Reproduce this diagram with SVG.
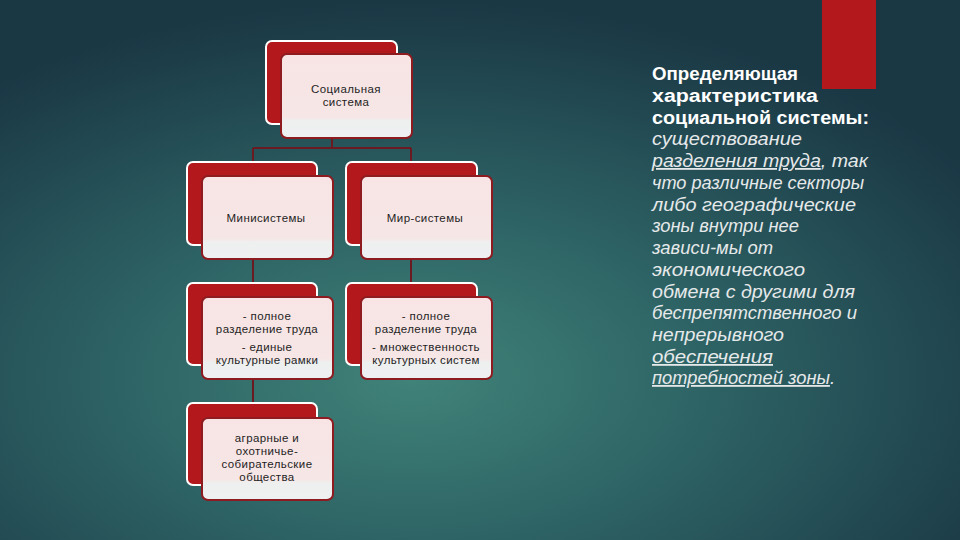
<svg xmlns="http://www.w3.org/2000/svg" width="960" height="540" viewBox="0 0 960 540">
<defs>
<radialGradient id="bg" cx="0.43" cy="0.7" r="0.7" gradientUnits="objectBoundingBox">
<stop offset="0" stop-color="#408379"/>
<stop offset="0.45" stop-color="#2d6264"/>
<stop offset="1" stop-color="#1a3744"/>
</radialGradient>
<linearGradient id="front" x1="0" y1="0" x2="0" y2="1">
<stop offset="0" stop-color="#f8e4e4"/>
<stop offset="0.75" stop-color="#f6e6e6"/>
<stop offset="0.8" stop-color="#eef0f0"/>
<stop offset="1" stop-color="#eef1f1"/>
</linearGradient>
<style>
.back{fill:#b3191c;stroke:#ffffff;stroke-width:2}
.front{fill:url(#front);stroke:#8e1b20;stroke-width:2}
.nt{font-family:"Liberation Sans","DejaVu Sans",sans-serif;font-size:11.5px;letter-spacing:0.4px;fill:#1e1e1e;text-anchor:middle}
.conn{stroke:#6a1a20;stroke-width:2;fill:none}
.rt{font-family:"Liberation Sans","DejaVu Sans",sans-serif;font-size:18px;fill:#ffffff}
.rb{font-weight:bold}
.ri{font-style:italic;fill:#e6e9ea}
.u{text-decoration:underline}
</style>
</defs>
<rect x="0" y="0" width="960" height="540" fill="url(#bg)"/>
<rect x="822" y="0" width="54" height="89" fill="#b3191c"/>
<g id="connectors">
<path class="conn" d="M332 138 V148 M253 148 H411 M253 148 V162 M411 148 V162"/>
<path class="conn" d="M253 259 V283 M411 259 V283 M253 379 V403"/>
</g>
<g id="node-social">
<rect class="back" x="266" y="41" width="131" height="83" rx="6"/>
<rect class="front" x="281" y="54" width="131" height="84" rx="6"/>
<text class="nt" x="346" y="93">Социальная</text>
<text class="nt" x="346" y="106">система</text>
</g>
<g id="node-mini">
<rect class="back" x="187" y="162" width="130" height="83" rx="6"/>
<rect class="front" x="202" y="176" width="131" height="83" rx="6"/>
<text class="nt" x="266" y="222">Минисистемы</text>
</g>
<g id="node-world">
<rect class="back" x="346" y="162" width="131" height="83" rx="6"/>
<rect class="front" x="361" y="176" width="131" height="83" rx="6"/>
<text class="nt" x="425" y="222">Мир-системы</text>
</g>
<g id="node-mini-desc">
<rect class="back" x="187" y="283" width="130" height="82" rx="6"/>
<rect class="front" x="202" y="297" width="131" height="82" rx="6"/>
<text class="nt" x="267" y="320">- полное</text>
<text class="nt" x="267" y="333">разделение труда</text>
<text class="nt" x="267" y="351">- единые</text>
<text class="nt" x="267" y="364">культурные рамки</text>
</g>
<g id="node-world-desc">
<rect class="back" x="346" y="283" width="131" height="82" rx="6"/>
<rect class="front" x="361" y="297" width="131" height="82" rx="6"/>
<text class="nt" x="426" y="320">- полное</text>
<text class="nt" x="426" y="333">разделение труда</text>
<text class="nt" x="426" y="351">- множественность</text>
<text class="nt" x="426" y="364">культурных систем</text>
</g>
<g id="node-agrarian">
<rect class="back" x="187" y="403" width="130" height="82" rx="6"/>
<rect class="front" x="202" y="418" width="131" height="82" rx="6"/>
<text class="nt" x="267" y="442">аграрные и</text>
<text class="nt" x="267" y="455">охотничье-</text>
<text class="nt" x="267" y="468">собирательские</text>
<text class="nt" x="267" y="481">общества</text>
</g>
<g id="description">
<text class="rt rb" x="652" y="80" textLength="146" lengthAdjust="spacingAndGlyphs">Определяющая</text>
<text class="rt rb" x="652" y="102" textLength="166" lengthAdjust="spacingAndGlyphs">характеристика</text>
<text class="rt rb" x="652" y="124" textLength="217" lengthAdjust="spacingAndGlyphs">социальной системы:</text>
<text class="rt ri" x="652" y="145" textLength="150" lengthAdjust="spacingAndGlyphs">существование</text>
<text class="rt ri" x="652" y="167" textLength="216" lengthAdjust="spacingAndGlyphs"><tspan class="u">разделения труда</tspan>, так</text>
<text class="rt ri" x="652" y="189" textLength="212" lengthAdjust="spacingAndGlyphs">что различные секторы</text>
<text class="rt ri" x="652" y="211" textLength="204" lengthAdjust="spacingAndGlyphs">либо географические</text>
<text class="rt ri" x="652" y="232" textLength="147" lengthAdjust="spacingAndGlyphs">зоны внутри нее</text>
<text class="rt ri" x="652" y="254" textLength="121" lengthAdjust="spacingAndGlyphs">зависи-мы от</text>
<text class="rt ri" x="652" y="276" textLength="153" lengthAdjust="spacingAndGlyphs">экономического</text>
<text class="rt ri" x="652" y="298" textLength="203" lengthAdjust="spacingAndGlyphs">обмена с другими для</text>
<text class="rt ri" x="652" y="319" textLength="205" lengthAdjust="spacingAndGlyphs">беспрепятственного и</text>
<text class="rt ri" x="652" y="341" textLength="132" lengthAdjust="spacingAndGlyphs">непрерывного</text>
<text class="rt ri" x="652" y="363" textLength="121" lengthAdjust="spacingAndGlyphs"><tspan class="u">обеспечения</tspan></text>
<text class="rt ri" x="652" y="384" textLength="183" lengthAdjust="spacingAndGlyphs"><tspan class="u">потребностей зоны</tspan>.</text>
</g>
</svg>
